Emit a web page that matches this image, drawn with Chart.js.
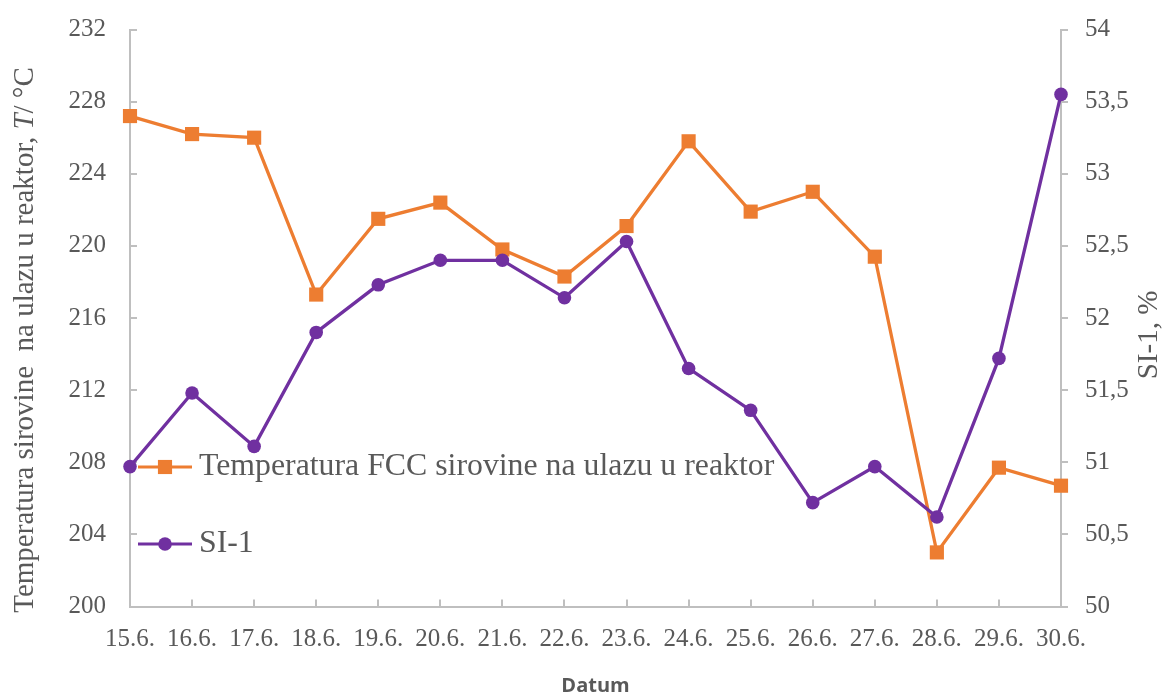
<!DOCTYPE html>
<html lang="hr">
<head>
    <meta charset="UTF-8">
    <title>Temperatura FCC sirovine i SI-1</title>
    <script src="https://cdn.jsdelivr.net/npm/chart.js"></script>
    <style>
        html, body {
            margin: 0;
            padding: 0;
            background: #ffffff;
        }
        #wrap {
            width: 1162px;
            height: 693px;
        }
    </style>
</head>
<body>
    <div id="wrap">
        <canvas id="chart" width="1162" height="693"></canvas>
    </div>
    <script>
        // Datumi mjerenja
        const dates = ['15.6.', '16.6.', '17.6.', '18.6.', '19.6.', '20.6.', '21.6.', '22.6.',
                       '23.6.', '24.6.', '25.6.', '26.6.', '27.6.', '28.6.', '29.6.', '30.6.'];

        // Temperatura FCC sirovine na ulazu u reaktor, °C
        const tempFCC = [227.2, 226.2, 226.0, 217.3, 221.5, 222.4, 219.8, 218.3,
                         221.1, 225.8, 221.9, 223.0, 219.4, 203.0, 207.7, 206.7];

        // SI-1, %
        const si1 = [50.97, 51.48, 51.11, 51.90, 52.23, 52.40, 52.40, 52.14,
                     52.53, 51.65, 51.36, 50.72, 50.97, 50.62, 51.72, 53.55];

        // raspon osi
        const tempTicks = [200, 204, 208, 212, 216, 220, 224, 228, 232];
        const siTicks = [50, 50.5, 51, 51.5, 52, 52.5, 53, 53.5, 54];

        const ORANGE = '#ED7D31';
        const PURPLE = '#7030A0';
        const TEXT = '#595959';
        const AXIS = '#BFBFBF';
        const SERIF = '"Liberation Serif", "Times New Roman", serif';

        // crtice na osima, naslovi osi i legenda
        const extras = {
            id: 'extras',
            beforeDatasetsDraw(chart) {
                const { ctx, chartArea, scales } = chart;
                ctx.save();
                ctx.strokeStyle = AXIS;
                ctx.lineWidth = 2;
                ctx.beginPath();
                scales.y.ticks.forEach((t, i) => {
                    const py = Math.round(scales.y.getPixelForTick(i));
                    ctx.moveTo(chartArea.left, py);
                    ctx.lineTo(chartArea.left + 7, py);
                });
                scales.y1.ticks.forEach((t, i) => {
                    const py = Math.round(scales.y1.getPixelForTick(i));
                    ctx.moveTo(chartArea.right, py);
                    ctx.lineTo(chartArea.right + 7, py);
                });
                scales.x.ticks.forEach((t, i) => {
                    const px = Math.round(scales.x.getPixelForTick(i));
                    ctx.moveTo(px, chartArea.bottom);
                    ctx.lineTo(px, chartArea.bottom - 7);
                });
                ctx.stroke();
                ctx.restore();
            },
            afterDraw(chart) {
                const { ctx, chartArea } = chart;
                ctx.save();
                ctx.fillStyle = TEXT;

                // lijevi naslov, s kurzivnim T
                const parts = [
                    ['Temperatura sirovine  na ulazu u reaktor, ', 'normal'],
                    ['T', 'italic'],
                    ['/ °C', 'normal']
                ];
                let total = 0;
                parts.forEach(p => {
                    ctx.font = p[1] + ' 29px ' + SERIF;
                    total += ctx.measureText(p[0]).width;
                });
                ctx.save();
                ctx.translate(25, 340);
                ctx.rotate(-Math.PI / 2);
                ctx.textBaseline = 'middle';
                ctx.textAlign = 'left';
                let cx = -total / 2;
                parts.forEach(p => {
                    ctx.font = p[1] + ' 29px ' + SERIF;
                    ctx.fillText(p[0], cx, 0);
                    cx += ctx.measureText(p[0]).width;
                });
                ctx.restore();

                // desni naslov
                ctx.save();
                ctx.translate(1149, 335);
                ctx.rotate(-Math.PI / 2);
                ctx.font = '29px ' + SERIF;
                ctx.textAlign = 'center';
                ctx.textBaseline = 'middle';
                ctx.fillText('SI-1, %', 0, 0);
                ctx.restore();

                // naslov osi x
                ctx.font = 'bold 20px "Open Sans", sans-serif';
                ctx.textAlign = 'center';
                ctx.textBaseline = 'alphabetic';
                ctx.fillText('Datum', (chartArea.left + chartArea.right) / 2, 692);

                // legenda
                const rows = [chart.data.datasets[0], chart.data.datasets[1]];
                rows.forEach((ds, i) => {
                    const ly = 467 + i * 77;
                    ctx.strokeStyle = ds.borderColor;
                    ctx.lineWidth = 3;
                    ctx.beginPath();
                    ctx.moveTo(138, ly);
                    ctx.lineTo(192, ly);
                    ctx.stroke();
                    ctx.fillStyle = ds.pointBackgroundColor;
                    Chart.helpers.drawPoint(ctx, {
                        pointStyle: ds.pointStyle,
                        radius: ds.pointRadius,
                        borderWidth: 0,
                        rotation: 0
                    }, 165, ly);
                    ctx.fillStyle = TEXT;
                    ctx.font = '31.8px ' + SERIF;
                    ctx.textAlign = 'left';
                    ctx.textBaseline = 'middle';
                    ctx.fillText(ds.label, 199, ly);
                });
                ctx.restore();
            }
        };

        const tickFont = { family: SERIF, size: 25 };

        // fiksna širina okomitih osi, bez dodatnog razmaka gore/dolje
        const fitY = (w) => (s) => {
            s.width = w;
            s.paddingTop = 0;
            s.paddingBottom = 0;
        };

        new Chart(document.getElementById('chart'), {
            type: 'line',
            data: {
                labels: dates,
                datasets: [
                    {
                        label: 'Temperatura FCC sirovine na ulazu u reaktor',
                        data: tempFCC,
                        yAxisID: 'y',
                        borderColor: ORANGE,
                        backgroundColor: ORANGE,
                        pointBackgroundColor: ORANGE,
                        pointBorderWidth: 0,
                        pointStyle: 'rect',
                        pointRadius: 10,
                        borderWidth: 3.3,
                        tension: 0,
                        clip: false,
                        order: 2
                    },
                    {
                        label: 'SI-1',
                        data: si1,
                        yAxisID: 'y1',
                        borderColor: PURPLE,
                        backgroundColor: PURPLE,
                        pointBackgroundColor: PURPLE,
                        pointBorderWidth: 0,
                        pointStyle: 'circle',
                        pointRadius: 6.8,
                        borderWidth: 3.3,
                        tension: 0,
                        clip: false,
                        order: 1
                    }
                ]
            },
            options: {
                responsive: false,
                animation: false,
                events: [],
                layout: { padding: { left: 0, right: 0, top: 29.5, bottom: 0 } },
                plugins: {
                    legend: { display: false },
                    tooltip: { enabled: false }
                },
                scales: {
                    x: {
                        offset: false,
                        grid: { display: false, drawTicks: false },
                        border: { color: AXIS, width: 2 },
                        ticks: { color: TEXT, font: tickFont, padding: 18, maxRotation: 0, autoSkip: false },
                        afterFit: (s) => { s.height = 86.5; }
                    },
                    y: {
                        position: 'left',
                        min: tempTicks[0],
                        max: tempTicks[tempTicks.length - 1],
                        grid: { display: false, drawTicks: false },
                        border: { color: AXIS, width: 2 },
                        ticks: { color: TEXT, font: tickFont, padding: 24, stepSize: tempTicks[1] - tempTicks[0] },
                        afterFit: fitY(130)
                    },
                    y1: {
                        position: 'right',
                        min: siTicks[0],
                        max: siTicks[siTicks.length - 1],
                        grid: { display: false, drawTicks: false },
                        border: { color: AXIS, width: 2 },
                        ticks: {
                            color: TEXT,
                            font: tickFont,
                            padding: 24,
                            stepSize: siTicks[1] - siTicks[0],
                            callback: (v) => String(v).replace('.', ',')
                        },
                        afterFit: fitY(101)
                    }
                }
            },
            plugins: [extras]
        });
    </script>
</body>
</html>
